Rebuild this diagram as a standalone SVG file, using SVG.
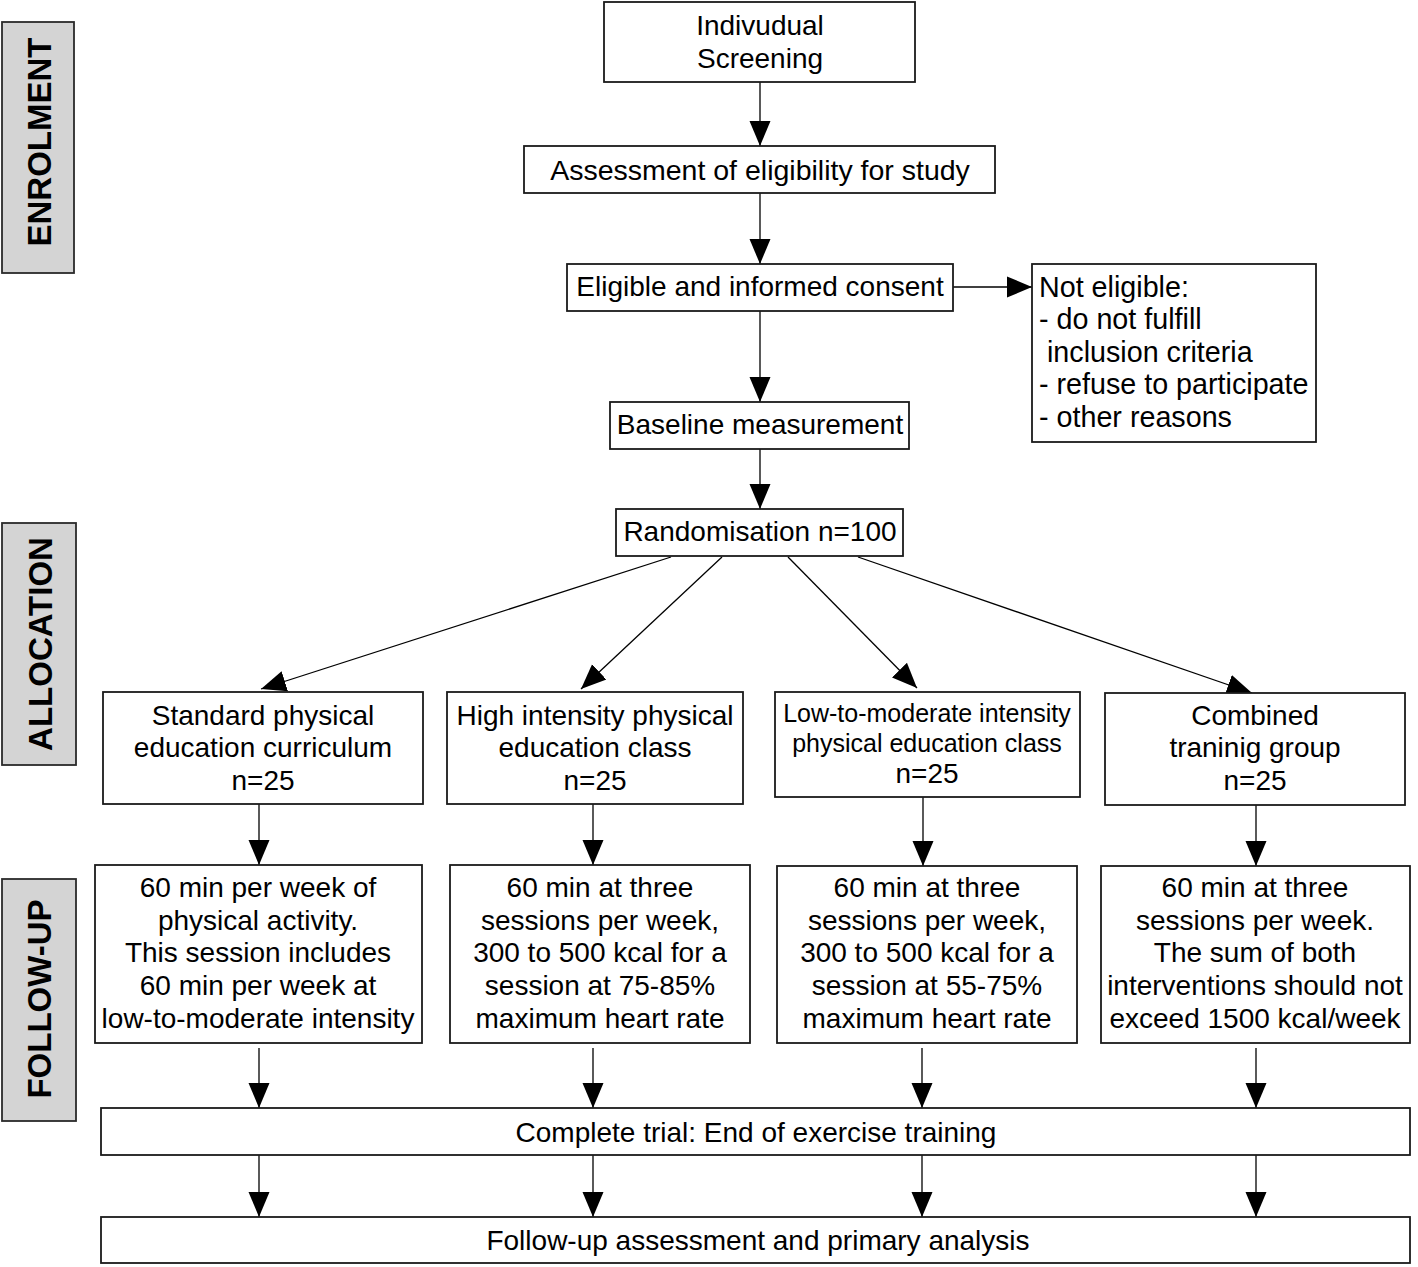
<svg xmlns="http://www.w3.org/2000/svg" width="1418" height="1267" viewBox="0 0 1418 1267">
<style>
  .box { fill: #ffffff; stroke: #1a1a1a; stroke-width: 1.8; }
  .side { fill: #d4d4d4; stroke: #2a2a2a; stroke-width: 1.8; }
  .t { font-family: "Liberation Sans", Arial, sans-serif; font-size: 28px; fill: #000; text-anchor: middle; }
  .tl { font-family: "Liberation Sans", Arial, sans-serif; font-size: 28.7px; fill: #000; }
  .ts { font-family: "Liberation Sans", Arial, sans-serif; font-size: 25px; fill: #000; text-anchor: middle; }
  .sl { font-family: "Liberation Sans", Arial, sans-serif; font-size: 33px; font-weight: bold; fill: #000; text-anchor: middle; }
  .c { stroke: #000; stroke-width: 1.3; fill: none; marker-end: url(#ah); }
</style>
<defs>
  <marker id="ah" markerUnits="userSpaceOnUse" markerWidth="27" markerHeight="23" refX="25" refY="10.5" orient="auto" viewBox="0 0 27 21">
    <path d="M0,0 L25,10.5 L0,21 z" fill="#000"/>
  </marker>
</defs>
<rect width="1418" height="1267" fill="#ffffff"/>

<g id="label-enrolment">
  <rect class="side" x="2" y="22" width="72" height="251"/>
  <text class="sl" transform="translate(51,142) rotate(-90)">ENROLMENT</text>
</g>
<g id="label-allocation">
  <rect class="side" x="2" y="523" width="74" height="242"/>
  <text class="sl" transform="translate(52,644) rotate(-90)">ALLOCATION</text>
</g>
<g id="label-followup">
  <rect class="side" x="2" y="879" width="74" height="242"/>
  <text class="sl" transform="translate(51,999) rotate(-90)">FOLLOW-UP</text>
</g>

<g id="connectors">
  <line class="c" x1="760" y1="82" x2="760" y2="146"/>
  <line class="c" x1="760" y1="193" x2="760" y2="264"/>
  <line class="c" x1="953" y1="287" x2="1032" y2="287"/>
  <line class="c" x1="760" y1="311" x2="760" y2="402"/>
  <line class="c" x1="760" y1="449" x2="760" y2="509"/>
  <line class="c" x1="671" y1="557" x2="261" y2="689"/>
  <line class="c" x1="722" y1="557" x2="581" y2="689"/>
  <line class="c" x1="788" y1="557" x2="917" y2="688"/>
  <line class="c" x1="858" y1="557" x2="1252" y2="693"/>
  <line class="c" x1="259" y1="804" x2="259" y2="865"/>
  <line class="c" x1="593" y1="804" x2="593" y2="865"/>
  <line class="c" x1="923" y1="797" x2="923" y2="866"/>
  <line class="c" x1="1256" y1="805" x2="1256" y2="866"/>
  <line class="c" x1="259" y1="1048" x2="259" y2="1108"/>
  <line class="c" x1="593" y1="1048" x2="593" y2="1108"/>
  <line class="c" x1="922" y1="1048" x2="922" y2="1108"/>
  <line class="c" x1="1256" y1="1048" x2="1256" y2="1108"/>
  <line class="c" x1="259" y1="1155" x2="259" y2="1217"/>
  <line class="c" x1="593" y1="1155" x2="593" y2="1217"/>
  <line class="c" x1="922" y1="1155" x2="922" y2="1217"/>
  <line class="c" x1="1256" y1="1155" x2="1256" y2="1217"/>
</g>

<g id="screening">
  <rect class="box" x="604" y="2" width="311" height="80"/>
  <text class="t" x="760" y="35">Indivudual</text>
  <text class="t" x="760" y="68">Screening</text>
</g>
<g id="assessment">
  <rect class="box" x="524" y="146" width="471" height="47"/>
  <text class="t" x="760" y="180" style="font-size:28.5px">Assessment of eligibility for study</text>
</g>
<g id="eligible">
  <rect class="box" x="567" y="264" width="386" height="47"/>
  <text class="t" x="760" y="296">Eligible and informed consent</text>
</g>
<g id="not-eligible">
  <rect class="box" x="1032" y="264" width="284" height="178"/>
  <text class="tl" x="1039" y="297">Not eligible:</text>
  <text class="tl" x="1039" y="329">- do not fulfill</text>
  <text class="tl" x="1047" y="362">inclusion criteria</text>
  <text class="tl" x="1039" y="394">- refuse to participate</text>
  <text class="tl" x="1039" y="427">- other reasons</text>
</g>
<g id="baseline">
  <rect class="box" x="610" y="402" width="299" height="47"/>
  <text class="t" x="760" y="434">Baseline measurement</text>
</g>
<g id="randomisation">
  <rect class="box" x="616" y="509" width="287" height="47"/>
  <text class="t" x="760" y="541">Randomisation n=100</text>
</g>

<g id="group-standard">
  <rect class="box" x="103" y="692" width="320" height="112"/>
  <text class="t" x="263" y="725">Standard physical</text>
  <text class="t" x="263" y="757">education curriculum</text>
  <text class="t" x="263" y="790">n=25</text>
</g>
<g id="group-high">
  <rect class="box" x="447" y="692" width="296" height="112"/>
  <text class="t" x="595" y="725">High intensity physical</text>
  <text class="t" x="595" y="757">education class</text>
  <text class="t" x="595" y="790">n=25</text>
</g>
<g id="group-low">
  <rect class="box" x="775" y="692" width="305" height="105"/>
  <text class="ts" x="927" y="722">Low-to-moderate intensity</text>
  <text class="ts" x="927" y="752">physical education class</text>
  <text class="t" x="927" y="783">n=25</text>
</g>
<g id="group-combined">
  <rect class="box" x="1105" y="693" width="300" height="112"/>
  <text class="t" x="1255" y="725">Combined</text>
  <text class="t" x="1255" y="757">traninig group</text>
  <text class="t" x="1255" y="790">n=25</text>
</g>

<g id="activity-standard">
  <rect class="box" x="95" y="865" width="327" height="178"/>
  <text class="t" x="258" y="897">60 min per week of</text>
  <text class="t" x="258" y="930">physical activity.</text>
  <text class="t" x="258" y="962">This session includes</text>
  <text class="t" x="258" y="995">60 min per week at</text>
  <text class="t" x="258" y="1028">low-to-moderate intensity</text>
</g>
<g id="activity-high">
  <rect class="box" x="450" y="865" width="300" height="178"/>
  <text class="t" x="600" y="897">60 min at three</text>
  <text class="t" x="600" y="930">sessions per week,</text>
  <text class="t" x="600" y="962">300 to 500 kcal for a</text>
  <text class="t" x="600" y="995">session at 75-85%</text>
  <text class="t" x="600" y="1028">maximum heart rate</text>
</g>
<g id="activity-low">
  <rect class="box" x="777" y="866" width="300" height="177"/>
  <text class="t" x="927" y="897">60 min at three</text>
  <text class="t" x="927" y="930">sessions per week,</text>
  <text class="t" x="927" y="962">300 to 500 kcal for a</text>
  <text class="t" x="927" y="995">session at 55-75%</text>
  <text class="t" x="927" y="1028">maximum heart rate</text>
</g>
<g id="activity-combined">
  <rect class="box" x="1101" y="866" width="309" height="177"/>
  <text class="t" x="1255" y="897">60 min at three</text>
  <text class="t" x="1255" y="930">sessions per week.</text>
  <text class="t" x="1255" y="962">The sum of both</text>
  <text class="t" x="1255" y="995">interventions should not</text>
  <text class="t" x="1255" y="1028">exceed 1500 kcal/week</text>
</g>

<g id="complete-trial">
  <rect class="box" x="101" y="1108" width="1309" height="47"/>
  <text class="t" x="756" y="1142">Complete trial: End of exercise training</text>
</g>
<g id="follow-up-assessment">
  <rect class="box" x="101" y="1217" width="1309" height="46"/>
  <text class="t" x="758" y="1250">Follow-up assessment and primary analysis</text>
</g>
</svg>
